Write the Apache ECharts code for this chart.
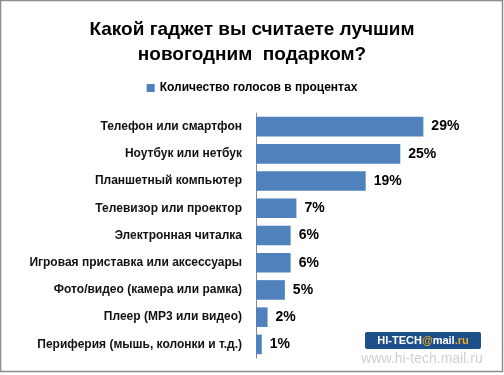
<!DOCTYPE html>
<html>
<head>
<meta charset="utf-8">
<script src="https://cdn.jsdelivr.net/npm/echarts@6/dist/echarts.min.js"></script>
<style>
html,body{margin:0;padding:0;background:#fff;}
#chart{width:504px;height:375px;}
</style>
</head>
<body>
<div id="chart"></div>
<script>
var titleText = "Какой гаджет вы считаете лучшим\nновогодним  подарком?";
var seriesName = "Количество голосов в процентах";
var categories = [
  "Телефон или смартфон",
  "Ноутбук или нетбук",
  "Планшетный компьютер",
  "Телевизор или проектор",
  "Электронная читалка",
  "Игровая приставка или аксессуары",
  "Фото/видео (камера или рамка)",
  "Плеер (MP3 или видео)",
  "Периферия (мышь, колонки и т.д.)"
];
var values = [29, 25, 19, 7, 6, 6, 5, 2, 1];

var chart = echarts.init(document.getElementById('chart'), null, {renderer:'canvas'});
var font = '"Liberation Sans", Arial, sans-serif';
chart.setOption({
  animation: false,
  backgroundColor: '#ffffff',
  title: {
    text: titleText,
    left: 'center',
    top: 12,
    textStyle: {fontFamily: font, fontSize: 19, fontWeight: 'bold', color: '#000', lineHeight: 25}
  },
  legend: {
    data: [seriesName],
    top: 77,
    left: 'center',
    itemWidth: 8,
    itemHeight: 8,
    itemGap: 5,
    icon: 'rect',
    textStyle: {fontFamily: font, fontSize: 12, color: '#000', fontWeight: 'bold'}
  },
  grid: {left: 256, top: 113, bottom: 17, right: 46, containLabel: false},
  xAxis: {
    type: 'value', min: 0, max: 35, show: false
  },
  yAxis: {
    type: 'category',
    inverse: true,
    data: categories,
    axisLine: {show: true, lineStyle: {color: '#888888', width: 1}},
    axisTick: {show: false},
    axisLabel: {fontFamily: font, fontSize: 12, fontWeight: 'bold', color: '#111', margin: 14}
  },
  series: [{
    name: seriesName,
    type: 'bar',
    data: values,
    barCategoryGap: '28%',
    itemStyle: {color: '#4f81bd'},
    label: {
      show: true, position: 'right', distance: 8,
      formatter: '{c}%',
      fontFamily: font, fontSize: 14, fontWeight: 'bold', color: '#000'
    }
  }],
  graphic: [
    {type: 'rect', shape: {x: 0.5, y: 0.5, width: 502, height: 371}, style: {fill: 'none', stroke: '#8c8c8c', lineWidth: 1.5}, z: 100},
    {type: 'rect', shape: {x: 365, y: 332, width: 116, height: 17, r: 2}, style: {fill: '#1d4f8a'}, z: 100},
    {type: 'text', x: 423, y: 340.5, style: {
      text: '{w|HI-TECH}{o|@}{w|mail}{o|.ru}', align: 'center', verticalAlign: 'middle',
      rich: {
        w: {fontFamily: font, fontSize: 11, fontWeight: 'bold', fill: '#ffffff'},
        o: {fontFamily: font, fontSize: 11, fontWeight: 'bold', fill: '#f0a81c'}
      }
    }, z: 101},
    {type: 'text', x: 422, y: 359, style: {
      text: 'www.hi-tech.mail.ru', align: 'center', verticalAlign: 'middle',
      fontFamily: font, fontSize: 14, fill: '#d0d0d0'
    }, z: 101}
  ]
});
</script>
</body>
</html>
